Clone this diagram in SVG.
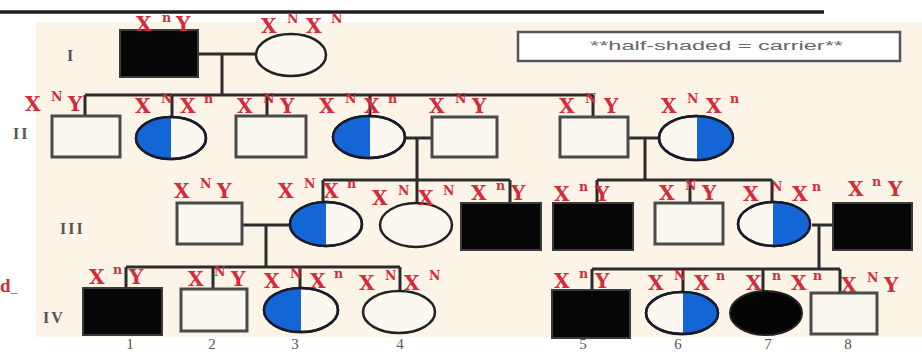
<svg xmlns="http://www.w3.org/2000/svg" width="922" height="354" viewBox="0 0 922 354">
<style>
.ln{stroke:#2b2b2b;stroke-width:3;fill:none}
.sq{fill:#fdf8ef;stroke:#4a4a4a;stroke-width:3}
.af{fill:#060606;stroke:#3a3a3a;stroke-width:2}
.ci{fill:#fdf8ef;stroke:#222;stroke-width:2.5}
.bl{fill:#1466d6}
.co{fill:none;stroke:#1a1a2a;stroke-width:2.5}
.gt{font-family:"DejaVu Serif","Liberation Serif",serif;font-weight:bold;font-size:20px;fill:#d42a3c}
.sp{font-size:12.5px}
.gen{font-family:"Liberation Serif",serif;font-weight:bold;font-size:16px;fill:#555;letter-spacing:2px}
.num{font-family:"Liberation Serif",serif;font-size:15px;fill:#555;text-anchor:middle}
.lg{font-family:"Liberation Sans",sans-serif;font-size:12px;fill:#666}
</style>
<rect x="0" y="0" width="922" height="354" fill="#ffffff"/>
<rect x="36" y="22" width="886" height="315" fill="#fdf4e8"/>
<line x1="0" y1="12" x2="824" y2="12" stroke="#1e1e1e" stroke-width="3.5"/>

<g id="legend">
<rect x="518" y="32" width="382" height="29" fill="#ffffff" stroke="#555" stroke-width="2.5"/>
<text class="lg" x="590" y="50" textLength="253" lengthAdjust="spacingAndGlyphs">**half-shaded = carrier**</text>
</g>

<g id="generation-labels">
<text class="gen" x="67" y="61">I</text>
<text class="gen" x="13" y="139">II</text>
<text class="gen" x="60" y="234">III</text>
<text class="gen" x="43" y="323">IV</text>
<text x="0" y="292" font-family="Liberation Serif,serif" font-weight="bold" font-size="19" fill="#d42a3c">d<tspan fill="#777" font-weight="normal" font-size="14">_</tspan></text>
</g>

<g id="connectors">
<path class="ln" d="M198,54 H256 M222,54 V95"/>
<path class="ln" d="M85,95 H593 M85,95 V116 M172,95 V117 M267,95 V116 M370,95 V117 M593,95 V117"/>
<path class="ln" d="M405,138 H432 M417,138 V180"/>
<path class="ln" d="M323,180 H510 M323,180 V202 M417,180 V203 M510,180 V203"/>
<path class="ln" d="M628,138 H659 M645,138 V180"/>
<path class="ln" d="M597,180 H772 M597,180 V203 M690,180 V203 M772,180 V202"/>
<path class="ln" d="M242,225 H290 M266,225 V267"/>
<path class="ln" d="M126,267 H400 M126,267 V288 M213,267 V289 M300,267 V288 M400,267 V291"/>
<path class="ln" d="M812,225 H833 M819,225 V269"/>
<path class="ln" d="M592,269 H840 M592,269 V290 M683,269 V291 M763,269 V291 M840,269 V293"/>
</g>

<!-- Generation I -->
<g id="I-1">
<rect class="af" x="120" y="30" width="78" height="47"/>
<text class="gt" x="136" y="31">X<tspan class="sp" x="162" dy="-9">n</tspan><tspan x="176" dy="9">Y</tspan></text>
</g>
<g id="I-2">
<ellipse class="ci" cx="291" cy="55" rx="35" ry="21"/>
<text class="gt" x="261" y="33">X<tspan class="sp" x="287" dy="-10">N</tspan><tspan x="306" dy="10">X</tspan><tspan class="sp" x="331" dy="-10">N</tspan></text>
</g>

<!-- Generation II -->
<g id="II-1">
<rect class="sq" x="52" y="116" width="68" height="41"/>
<text class="gt" x="25" y="111">X<tspan class="sp" x="51" dy="-10">N</tspan><tspan x="68" dy="10">Y</tspan></text>
</g>
<g id="II-2">
<ellipse class="ci" cx="171" cy="138" rx="35" ry="21"/>
<path class="bl" d="M171,117 A35,21 0 0 0 171,159 Z"/>
<ellipse class="co" cx="171" cy="138" rx="35" ry="21"/>
<text class="gt" x="135" y="113">X<tspan class="sp" x="161" dy="-10">N</tspan><tspan x="180" dy="10">X</tspan><tspan class="sp" x="204" dy="-10">n</tspan></text>
</g>
<g id="II-3">
<rect class="sq" x="236" y="116" width="70" height="41"/>
<text class="gt" x="237" y="113">X<tspan class="sp" x="263" dy="-10">N</tspan><tspan x="280" dy="10">Y</tspan></text>
</g>
<g id="II-4">
<ellipse class="ci" cx="369" cy="137" rx="36" ry="21"/>
<path class="bl" d="M370,116 A36,21 0 0 0 370,158 Z"/>
<ellipse class="co" cx="369" cy="137" rx="36" ry="21"/>
<text class="gt" x="319" y="113">X<tspan class="sp" x="345" dy="-10">N</tspan><tspan x="364" dy="10">X</tspan><tspan class="sp" x="388" dy="-10">n</tspan></text>
</g>
<g id="II-5">
<rect class="sq" x="432" y="117" width="65" height="40"/>
<text class="gt" x="429" y="113">X<tspan class="sp" x="455" dy="-10">N</tspan><tspan x="472" dy="10">Y</tspan></text>
</g>
<g id="II-6">
<rect class="sq" x="560" y="117" width="68" height="40"/>
<text class="gt" x="559" y="113">X<tspan class="sp" x="585" dy="-10">N</tspan><tspan x="604" dy="10">Y</tspan></text>
</g>
<g id="II-7">
<ellipse class="ci" cx="696" cy="138" rx="37" ry="22"/>
<path class="bl" d="M697,116 A37,22 0 0 1 697,160 Z"/>
<ellipse class="co" cx="696" cy="138" rx="37" ry="22"/>
<text class="gt" x="661" y="113">X<tspan class="sp" x="687" dy="-10">N</tspan><tspan x="706" dy="10">X</tspan><tspan class="sp" x="730" dy="-10">n</tspan></text>
</g>

<!-- Generation III -->
<g id="III-1">
<rect class="sq" x="177" y="203" width="65" height="41"/>
<text class="gt" x="174" y="198">X<tspan class="sp" x="200" dy="-10">N</tspan><tspan x="217" dy="10">Y</tspan></text>
</g>
<g id="III-2">
<ellipse class="ci" cx="326" cy="224" rx="36" ry="22"/>
<path class="bl" d="M326,202 A36,22 0 0 0 326,246 Z"/>
<ellipse class="co" cx="326" cy="224" rx="36" ry="22"/>
<text class="gt" x="278" y="198">X<tspan class="sp" x="304" dy="-10">N</tspan><tspan x="323" dy="10">X</tspan><tspan class="sp" x="347" dy="-10">n</tspan></text>
</g>
<g id="III-3">
<ellipse class="ci" cx="416" cy="225" rx="36" ry="22"/>
<text class="gt" x="372" y="205">X<tspan class="sp" x="398" dy="-10">N</tspan><tspan x="418" dy="10">X</tspan><tspan class="sp" x="443" dy="-10">N</tspan></text>
</g>
<g id="III-4">
<rect class="af" x="461" y="203" width="80" height="47"/>
<text class="gt" x="471" y="200">X<tspan class="sp" x="496" dy="-10">n</tspan><tspan x="511" dy="10">Y</tspan></text>
</g>
<g id="III-5">
<rect class="af" x="553" y="203" width="80" height="47"/>
<text class="gt" x="554" y="201">X<tspan class="sp" x="579" dy="-10">n</tspan><tspan x="595" dy="10">Y</tspan></text>
</g>
<g id="III-6">
<rect class="sq" x="655" y="203" width="68" height="41"/>
<text class="gt" x="659" y="200">X<tspan class="sp" x="685" dy="-10">N</tspan><tspan x="702" dy="10">Y</tspan></text>
</g>
<g id="III-7">
<ellipse class="ci" cx="774" cy="224" rx="36" ry="22"/>
<path class="bl" d="M773,202 A36,22 0 0 1 773,246 Z"/>
<ellipse class="co" cx="774" cy="224" rx="36" ry="22"/>
<text class="gt" x="743" y="201">X<tspan class="sp" x="771" dy="-10">N</tspan><tspan x="792" dy="10">X</tspan><tspan class="sp" x="812" dy="-10">n</tspan></text>
</g>
<g id="III-8">
<rect class="af" x="833" y="203" width="79" height="47"/>
<text class="gt" x="848" y="196">X<tspan class="sp" x="872" dy="-10">n</tspan><tspan x="888" dy="10">Y</tspan></text>
</g>

<!-- Generation IV -->
<g id="IV-1">
<rect class="af" x="83" y="288" width="79" height="47"/>
<text class="gt" x="89" y="284">X<tspan class="sp" x="113" dy="-10">n</tspan><tspan x="129" dy="10">Y</tspan></text>
</g>
<g id="IV-2">
<rect class="sq" x="181" y="289" width="66" height="42"/>
<text class="gt" x="188" y="286">X<tspan class="sp" x="214" dy="-10">N</tspan><tspan x="231" dy="10">Y</tspan></text>
</g>
<g id="IV-3">
<ellipse class="ci" cx="301" cy="310" rx="37" ry="22"/>
<path class="bl" d="M301,288 A37,22 0 0 0 301,332 Z"/>
<ellipse class="co" cx="301" cy="310" rx="37" ry="22"/>
<text class="gt" x="264" y="288">X<tspan class="sp" x="290" dy="-10">N</tspan><tspan x="310" dy="10">X</tspan><tspan class="sp" x="334" dy="-10">n</tspan></text>
</g>
<g id="IV-4">
<ellipse class="ci" cx="399" cy="312" rx="36" ry="21"/>
<text class="gt" x="359" y="290">X<tspan class="sp" x="385" dy="-10">N</tspan><tspan x="404" dy="10">X</tspan><tspan class="sp" x="429" dy="-10">N</tspan></text>
</g>
<g id="IV-5">
<rect class="af" x="552" y="290" width="78" height="48"/>
<text class="gt" x="554" y="288">X<tspan class="sp" x="579" dy="-10">n</tspan><tspan x="595" dy="10">Y</tspan></text>
</g>
<g id="IV-6">
<ellipse class="ci" cx="682" cy="313" rx="36" ry="21"/>
<path class="bl" d="M683,292 A36,21 0 0 1 683,334 Z"/>
<ellipse class="co" cx="682" cy="313" rx="36" ry="21"/>
<text class="gt" x="648" y="290">X<tspan class="sp" x="674" dy="-10">N</tspan><tspan x="694" dy="10">X</tspan><tspan class="sp" x="716" dy="-10">n</tspan></text>
</g>
<g id="IV-7">
<ellipse cx="766" cy="313" rx="36" ry="22" fill="#050505" stroke="#222" stroke-width="2"/>
<text class="gt" x="746" y="290">X<tspan class="sp" x="772" dy="-10">n</tspan><tspan x="791" dy="10">X</tspan><tspan class="sp" x="813" dy="-10">n</tspan></text>
</g>
<g id="IV-8">
<rect class="sq" x="811" y="293" width="66" height="41"/>
<text class="gt" x="841" y="292">X<tspan class="sp" x="867" dy="-10">N</tspan><tspan x="884" dy="10">Y</tspan></text>
</g>

<g id="numbers">
<text class="num" x="130" y="349">1</text>
<text class="num" x="212" y="349">2</text>
<text class="num" x="295" y="349">3</text>
<text class="num" x="400" y="349">4</text>
<text class="num" x="583" y="349">5</text>
<text class="num" x="678" y="349">6</text>
<text class="num" x="768" y="349">7</text>
<text class="num" x="848" y="349">8</text>
</g>
</svg>
